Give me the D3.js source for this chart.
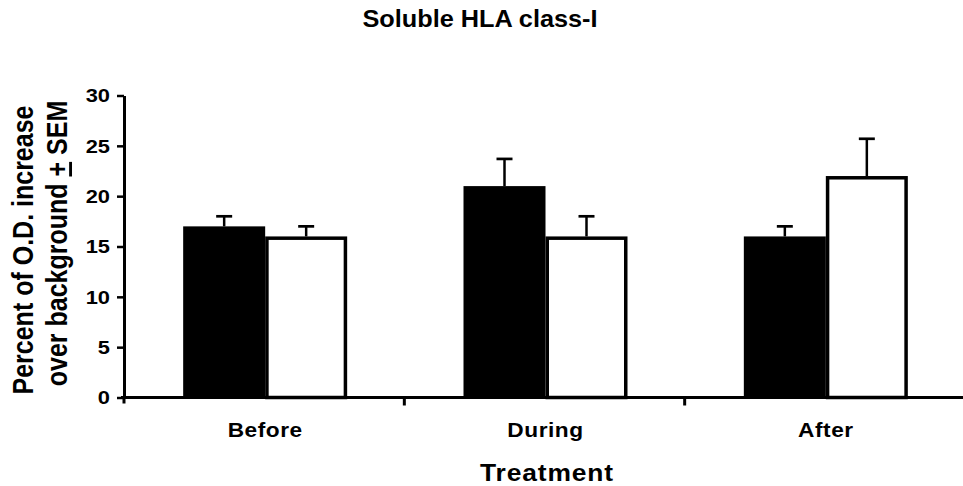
<!DOCTYPE html>
<html>
<head>
<meta charset="utf-8">
<script src="https://cdn.jsdelivr.net/npm/d3@7"></script>
<style>
  body { margin: 0; background: white; }
  text { font-family: "Liberation Sans", Arial, sans-serif; font-weight: bold; fill: black; }
</style>
</head>
<body>
<div id="chart"></div>
<script>
// data
let categories = ["Before", "During", "After"];
let series = ["black", "white"];
let blackValues = [17, 21, 16];
let blackErrors = [1, 2.7, 1];
let whiteValues = [16, 16, 22];
let whiteErrors = [1, 2, 3.7];
let yTicks = [0, 5, 10, 15, 20, 25, 30];

let width = 963, height = 486;

let svg = d3.select('#chart')
  .append('svg')
  .attr('width', width)
  .attr('height', height)
  .style('background-color', 'white');

// scales
let x = d3.scaleBand().domain(categories).range([124, 965]);
let x1 = d3.scaleBand().domain(series).range([-82, 82]);
let y = d3.scaleLinear().domain([0, 30]).range([397.5, 95.5]);

let rows = categories.map(function(c, i) {
  return [
    { cat: c, s: "black", v: blackValues[i], e: blackErrors[i] },
    { cat: c, s: "white", v: whiteValues[i], e: whiteErrors[i] }
  ];
}).flat();

function barLeft(d) { return x(d.cat) + x.bandwidth() / 2 + 1 + x1(d.s); }

// error bars (drawn first so the bar covers the bottom)
let err = svg.append("g");
err.selectAll("line.stem")
  .data(rows).enter().append("line")
  .attr("x1", function(d) { return barLeft(d) + x1.bandwidth() / 2; })
  .attr("x2", function(d) { return barLeft(d) + x1.bandwidth() / 2; })
  .attr("y1", function(d) { return y(d.v); })
  .attr("y2", function(d) { return y(d.v + d.e); })
  .attr("stroke", "black").attr("stroke-width", 2.5);
err.selectAll("line.cap")
  .data(rows).enter().append("line")
  .attr("x1", function(d) { return barLeft(d) + x1.bandwidth() / 2 - 8; })
  .attr("x2", function(d) { return barLeft(d) + x1.bandwidth() / 2 + 8; })
  .attr("y1", function(d) { return y(d.v + d.e); })
  .attr("y2", function(d) { return y(d.v + d.e); })
  .attr("stroke", "black").attr("stroke-width", 2.7);

// bars
svg.selectAll(".bar")
  .data(rows).enter().append("rect")
  .attr("class", "bar")
  .attr("x", function(d) { return d.s == "black" ? barLeft(d) : barLeft(d) + 1.75; })
  .attr("width", function(d) { return d.s == "black" ? x1.bandwidth() : x1.bandwidth() - 3.5; })
  .attr("y", function(d) { return d.s == "black" ? y(d.v) : y(d.v) + 1.75; })
  .attr("height", function(d) { return d.s == "black" ? y(0) - y(d.v) : y(0) - y(d.v) - 1.75; })
  .attr("fill", function(d) { return d.s == "black" ? "black" : "white"; })
  .attr("stroke", function(d) { return d.s == "black" ? "none" : "black"; })
  .attr("stroke-width", 3.5);

// y axis
let yAxis = svg.append("g")
  .attr("transform", "translate(124,0)")
  .call(d3.axisLeft(y).tickValues(yTicks).tickSize(7).tickSizeOuter(0).tickFormat(""));
yAxis.select(".domain").attr("stroke-width", 3);
yAxis.selectAll(".tick line").attr("stroke-width", 2.5);
// axis runs a little past the baseline
svg.append("line")
  .attr("x1", 124).attr("x2", 124)
  .attr("y1", y(0)).attr("y2", y(0) + 6)
  .attr("stroke", "black").attr("stroke-width", 3);

svg.append("g").selectAll("text")
  .data(yTicks).enter().append("text")
  .attr("transform", function(d) { return "translate(110," + y(d) + ") scale(1.15,1)"; })
  .attr("text-anchor", "end")
  .attr("dy", "0.36em")
  .style("font-size", "19px")
  .text(function(d) { return d; });

// x axis: line with ticks at the category boundaries
svg.append("line")
  .attr("x1", 121).attr("x2", 965)
  .attr("y1", y(0)).attr("y2", y(0))
  .attr("stroke", "black").attr("stroke-width", 3);
let bounds = categories.map(function(c) { return x(c) + x.bandwidth(); });
svg.append("g").selectAll("line")
  .data(bounds).enter().append("line")
  .attr("x1", function(d) { return d; }).attr("x2", function(d) { return d; })
  .attr("y1", y(0)).attr("y2", y(0) + 8)
  .attr("stroke", "black").attr("stroke-width", 3);

svg.append("g").selectAll("text")
  .data(categories).enter().append("text")
  .attr("transform", function(d) { return "translate(" + (x(d) + x.bandwidth() / 2 + 1) + ",436.5) scale(1.08,1)"; })
  .attr("text-anchor", "middle")
  .style("font-size", "21px")
  .style("letter-spacing", "0.5px")
  .text(function(d) { return d; });

// titles
svg.append("text")
  .attr("transform", "translate(480,27) scale(1.1,1)")
  .attr("text-anchor", "middle")
  .style("font-size", "23px")
  .text("Soluble HLA class-I");

svg.append("text")
  .attr("transform", "translate(547,481) scale(1.1,1)")
  .attr("text-anchor", "middle")
  .style("font-size", "24px")
  .style("letter-spacing", "0.8px")
  .text("Treatment");

svg.append("text")
  .attr("transform", "translate(33,250) rotate(-90) scale(1,1.15)")
  .attr("text-anchor", "middle")
  .style("font-size", "25px")
  .text("Percent of O.D. increase");

let yl2 = svg.append("text")
  .attr("transform", "translate(67,243.5) rotate(-90) scale(1,1.15)")
  .attr("text-anchor", "middle")
  .style("font-size", "25px");
yl2.append("tspan").text("over background ");
yl2.append("tspan").attr("text-decoration", "underline").text("+");
yl2.append("tspan").text(" SEM");
</script>
</body>
</html>
